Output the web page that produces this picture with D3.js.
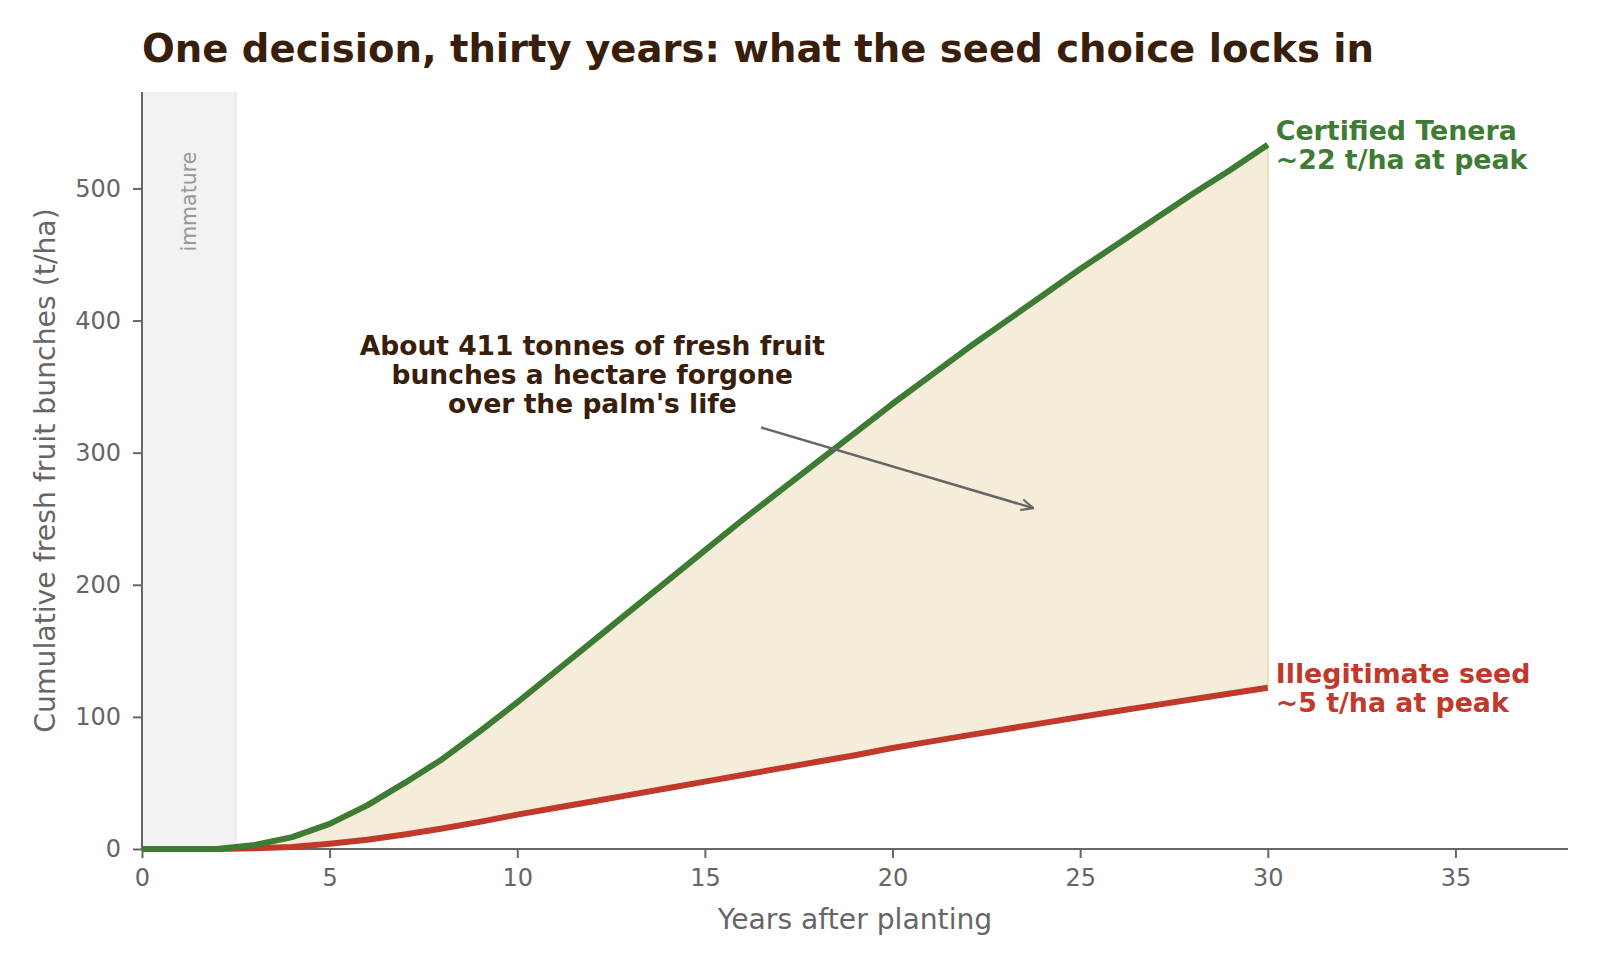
<!DOCTYPE html>
<html>
<head>
<meta charset="utf-8">
<script src="https://cdn.jsdelivr.net/npm/d3@7"></script>
<style>
  html, body { margin: 0; padding: 0; background: #fff; }
  svg { display: block; font-family: "DejaVu Sans", sans-serif; }
</style>
</head>
<body>
<svg id="chart" width="1600" height="967"></svg>
<script>
// ---- data ----
const years = [0,1,2,3,4,5,6,7,8,9,10,11,12,13,14,15,16,17,18,19,20,21,22,23,24,25,26,27,28,29,30];
const certifiedTenera = [0,0,0,3,9,19,33,50,68,89,111,134,157,180,203,226,249,271,293,315,337,358,379,399,419,439,458,477,496,514,533];
const illegitimateSeed = [0,0,0,0.5,1.5,4,7,11,15.5,20.5,26,31,36,41,46,51,56,61,66,71,76.5,81.3,86,90.7,95.3,99.9,104.4,108.9,113.3,117.7,122];
const xTicks = [0,5,10,15,20,25,30,35];
const yTicks = [0,100,200,300,400,500];
const immatureEnd = 2.5;
const titleText = "One decision, thirty years: what the seed choice locks in";
const xLabel = "Years after planting";
const yLabel = "Cumulative fresh fruit bunches (t/ha)";
const greenLabel = ["Certified Tenera", "~22 t/ha at peak"];
const redLabel = ["Illegitimate seed", "~5 t/ha at peak"];
const annotationLines = ["About 411 tonnes of fresh fruit", "bunches a hectare forgone", "over the palm's life"];
const annotationTextAt = [12.0, 374];
const arrowFrom = [16.5, 319];
const arrowTo = [23.75, 258];

(function () {
// ---- layout ----
const svg = d3.select("#chart");
const pL = 142, pR = 1568, pT = 92, pB = 849;
const x = d3.scaleLinear().domain([0, 38]).range([pL, pR]);
const y = d3.scaleLinear().domain([0, 573]).range([pB, pT]);

const GREEN = "#3e7b33", RED = "#c0392b", FILL = "#f5ecda", DARK = "#3a1e0c", GREY = "#666666";

// immature band
svg.append("rect")
  .attr("x", x(0)).attr("y", pT)
  .attr("width", x(immatureEnd) - x(0)).attr("height", pB - pT)
  .attr("fill", "#f2f2f2");
svg.append("line")
  .attr("x1", x(immatureEnd)).attr("x2", x(immatureEnd))
  .attr("y1", pT).attr("y2", pB)
  .attr("stroke", "#e6e6e6").attr("stroke-width", 1.5);
svg.append("text")
  .attr("transform", `translate(${x(immatureEnd/2) + 7},${y(490)}) rotate(-90)`)
  .attr("text-anchor", "middle")
  .attr("fill", "#999")
  .attr("font-size", 20.5)
  .text("immature");

// fill between curves
const rows = years.map((yr, i) => ({yr, g: certifiedTenera[i], r: illegitimateSeed[i]}));
svg.append("path")
  .datum(rows)
  .attr("d", d3.area().x(d => x(d.yr)).y0(d => y(d.r)).y1(d => y(d.g)))
  .attr("fill", FILL);
const last = rows[rows.length - 1];
svg.append("line")
  .attr("x1", x(last.yr)).attr("x2", x(last.yr))
  .attr("y1", y(last.r)).attr("y2", y(last.g))
  .attr("stroke", "#ebdfb9").attr("stroke-width", 2);

// axes
const xAxis = svg.append("g").attr("transform", `translate(0,${pB})`)
  .call(d3.axisBottom(x).tickValues(xTicks).tickSize(9).tickPadding(11).tickFormat(d3.format("d")));
const yAxis = svg.append("g").attr("transform", `translate(${pL},0)`)
  .call(d3.axisLeft(y).tickValues(yTicks).tickSize(9).tickPadding(12).tickFormat(d3.format("d")));
[xAxis, yAxis].forEach(g => {
  g.select(".domain").attr("stroke", GREY).attr("stroke-width", 2);
  g.selectAll(".tick line").attr("stroke", GREY).attr("stroke-width", 2);
  g.selectAll(".tick text").attr("fill", GREY).attr("font-size", 24).attr("font-family", "DejaVu Sans");
});
xAxis.select(".domain").attr("d", `M${pL},0H${pR}`);
yAxis.select(".domain").attr("d", `M0,${pB}V${pT}`);

// lines
const line = d3.line().x(d => x(d[0])).y(d => y(d[1]));
svg.append("path")
  .datum(years.map((yr, i) => [yr, illegitimateSeed[i]]))
  .attr("d", line).attr("fill", "none").attr("stroke", RED)
  .attr("stroke-width", 6).attr("stroke-linejoin", "round");
svg.append("path")
  .datum(years.map((yr, i) => [yr, certifiedTenera[i]]))
  .attr("d", line).attr("fill", "none").attr("stroke", GREEN)
  .attr("stroke-width", 6).attr("stroke-linejoin", "round");

// end labels
function endLabel(lines, val, color) {
  const t = svg.append("text")
    .attr("x", x(30) + 8).attr("y", y(val))
    .attr("fill", color).attr("font-size", 26.8).attr("font-weight", "bold");
  lines.forEach((s, i) => {
    t.append("tspan").attr("x", x(30) + 8)
      .attr("dy", i === 0 ? "-0.18em" : "1.07em").text(s);
  });
}
endLabel(greenLabel, last.g, GREEN);
endLabel(redLabel, last.r, RED);

// annotation
svg.append("defs").append("marker")
  .attr("id", "arr").attr("viewBox", "0 0 14 14").attr("refX", 13).attr("refY", 7)
  .attr("markerWidth", 14).attr("markerHeight", 14).attr("markerUnits", "userSpaceOnUse")
  .attr("orient", "auto")
  .append("path").attr("d", "M1,1.5 L13,7 L1,12.5").attr("fill", "none")
  .attr("stroke", GREY).attr("stroke-width", 2.2);
svg.append("line")
  .attr("x1", x(arrowFrom[0])).attr("y1", y(arrowFrom[1]))
  .attr("x2", x(arrowTo[0])).attr("y2", y(arrowTo[1]))
  .attr("stroke", GREY).attr("stroke-width", 2.5).attr("marker-end", "url(#arr)");
const at = svg.append("text")
  .attr("x", x(annotationTextAt[0])).attr("y", y(annotationTextAt[1]))
  .attr("text-anchor", "middle").attr("fill", DARK)
  .attr("font-size", 26.5).attr("font-weight", "bold");
annotationLines.forEach((s, i) => {
  at.append("tspan").attr("x", x(annotationTextAt[0]))
    .attr("dy", i === 0 ? "0em" : "1.1em").text(s);
});

// axis titles
svg.append("text")
  .attr("x", (pL + pR) / 2).attr("y", 929)
  .attr("text-anchor", "middle").attr("fill", GREY).attr("font-size", 28.2)
  .text(xLabel);
svg.append("text")
  .attr("transform", `translate(55,${(pT + pB) / 2}) rotate(-90)`)
  .attr("text-anchor", "middle").attr("fill", GREY).attr("font-size", 28.3)
  .text(yLabel);

// title
svg.append("text")
  .attr("x", pL).attr("y", 62)
  .attr("fill", DARK).attr("font-size", 38.6).attr("font-weight", "bold")
  .text(titleText);
})();
</script>
</body>
</html>
